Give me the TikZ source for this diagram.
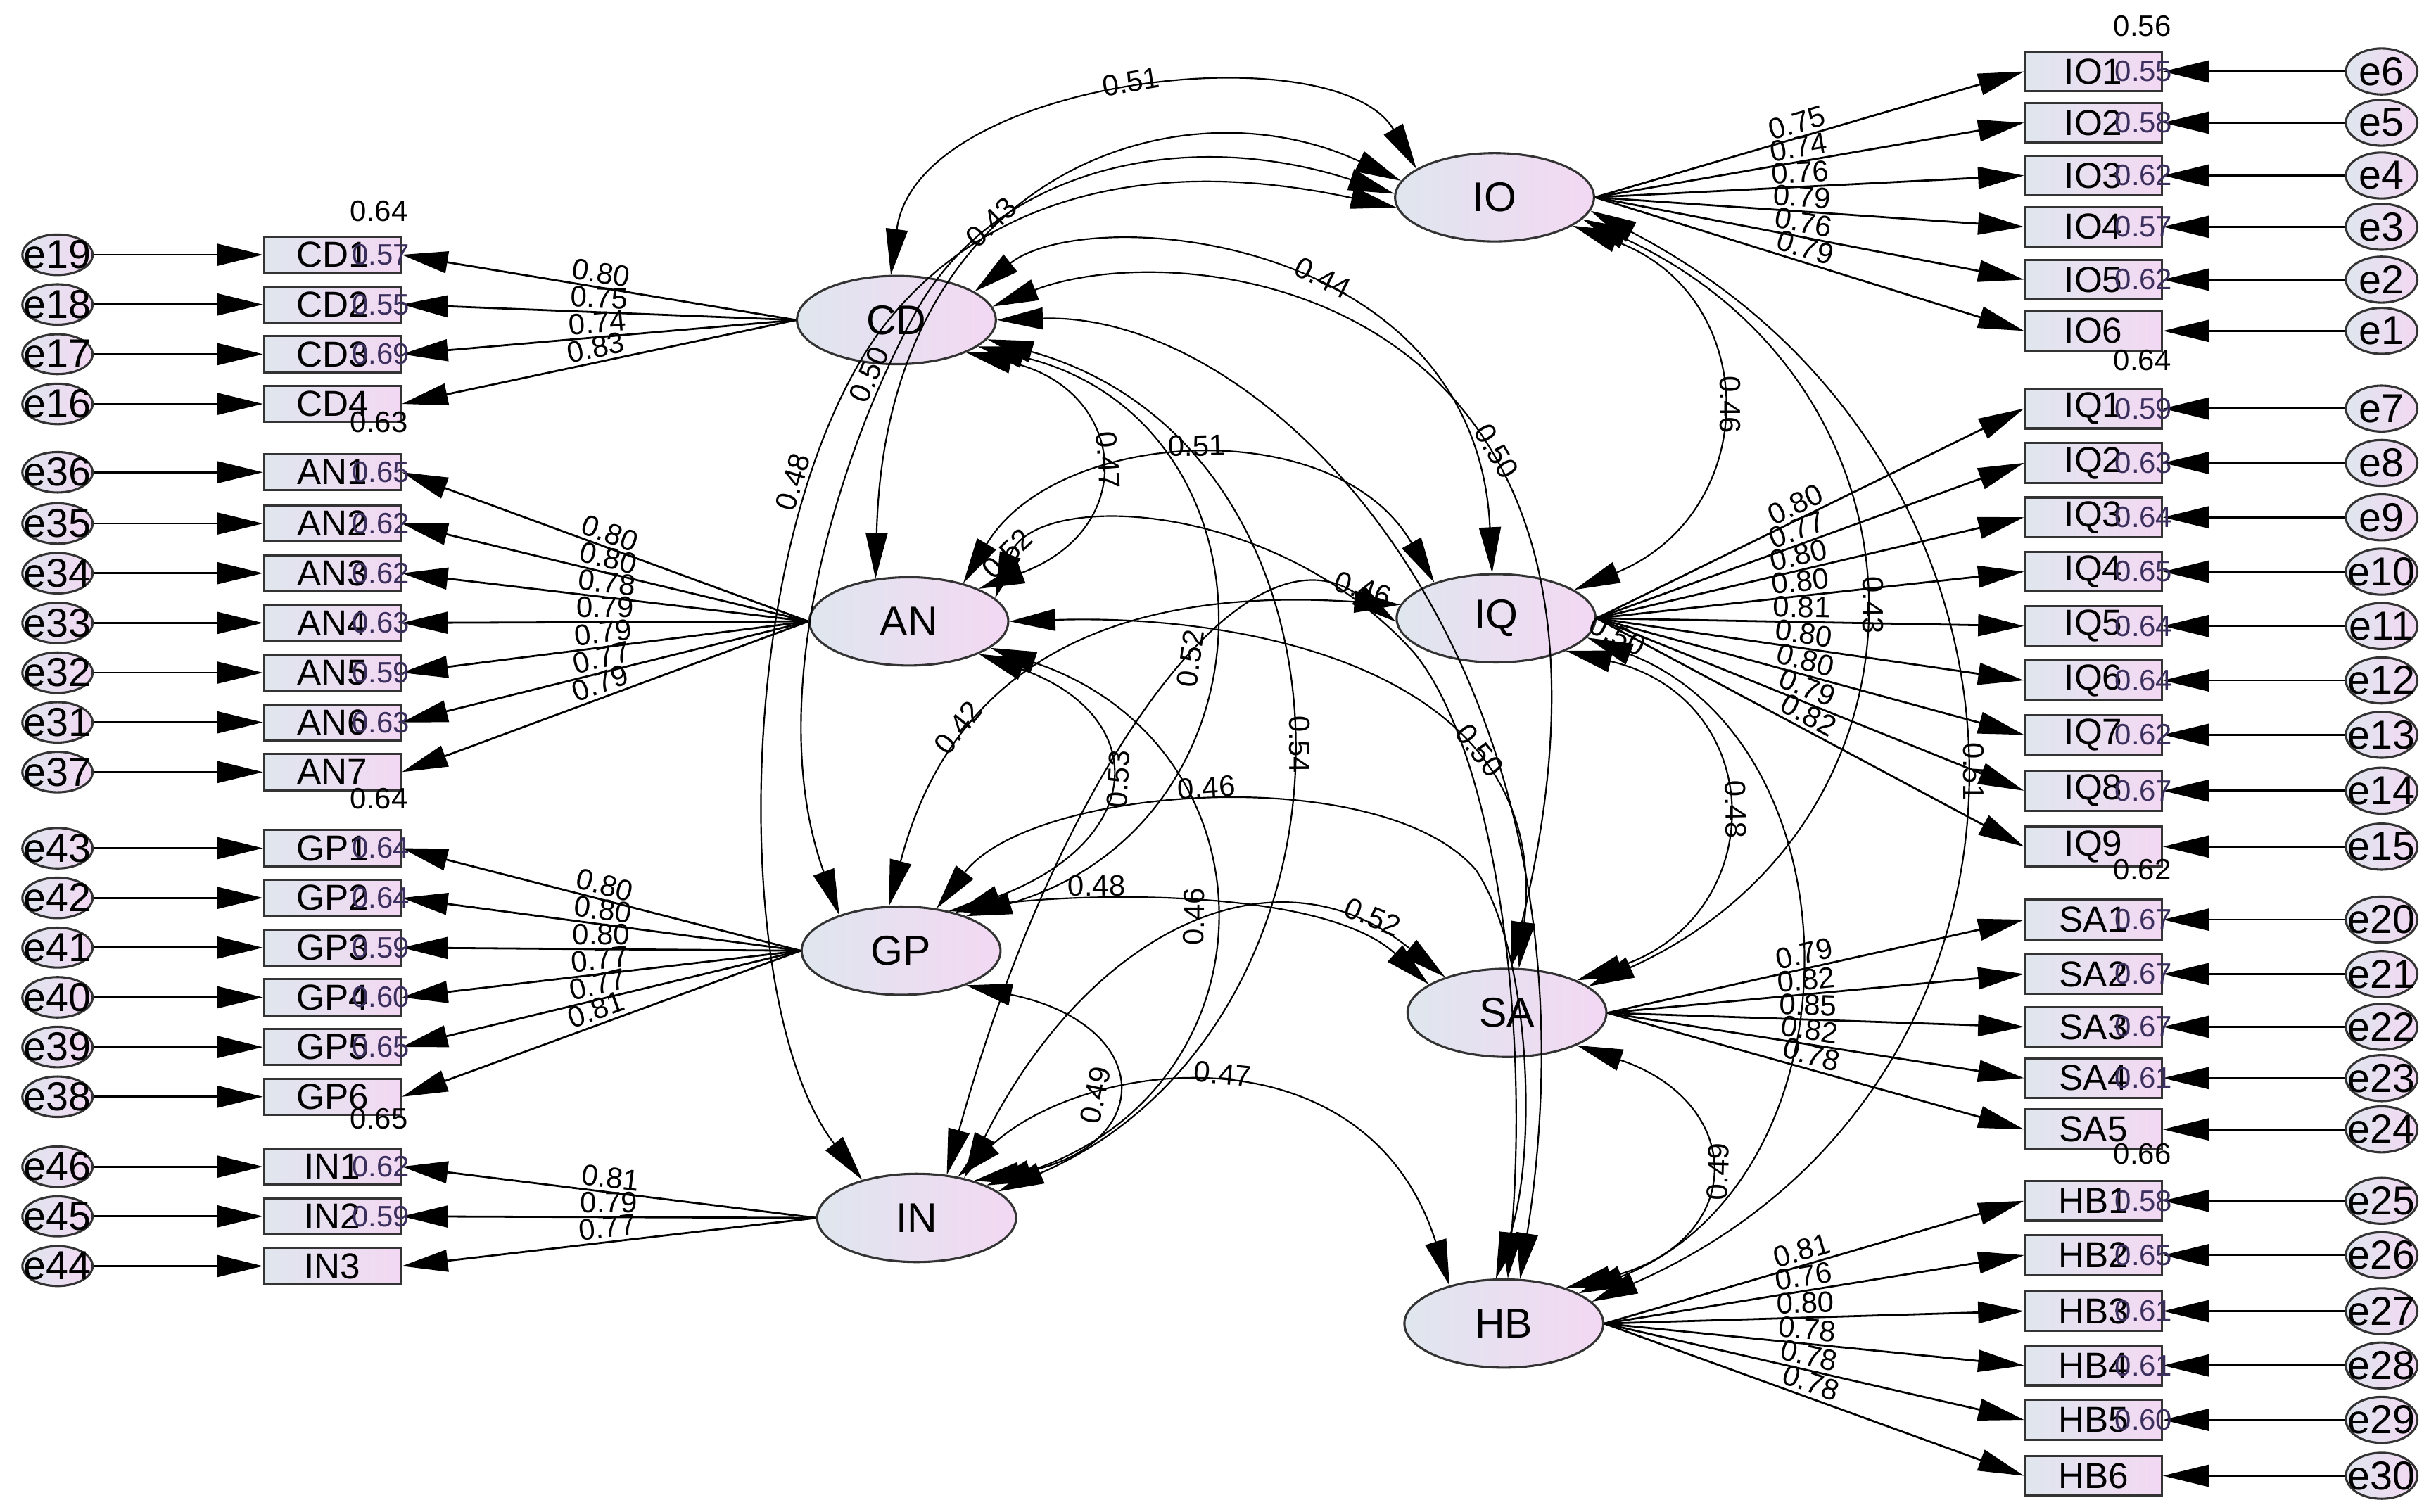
\documentclass[tikz,border=0pt]{standalone}
\usepackage{fontspec}
\setmainfont{Liberation Sans}
\usetikzlibrary{arrows.meta,shapes.geometric}
\definecolor{fillL}{HTML}{DFE6EE}
\definecolor{fillR}{HTML}{F3D8F3}
\definecolor{rsq}{HTML}{3B2F5E}
\definecolor{edge}{HTML}{333333}
\newcommand\zb[1]{\makebox[0pt]{#1}}
\begin{document}
\begin{tikzpicture}[x=0.025cm,y=-0.025cm,
  >={Triangle[length=21pt,width=10pt]},
  obs/.style={rectangle, draw=edge, line width=1pt, minimum width=2.2cm, minimum height=0.58cm, inner sep=0pt, left color=fillL, right color=fillR, font=\fontsize{16.5}{16.5}\selectfont},
  obsR/.style={obs, minimum height=0.64cm},
  err/.style={ellipse, draw=edge, line width=1pt, minimum width=1.13cm, minimum height=0.64cm, inner sep=0pt, left color=fillL, right color=fillR, font=\fontsize{18.5}{18.5}\selectfont},
  errR/.style={err, minimum width=1.15cm, minimum height=0.74cm},
  lat/.style={ellipse, draw=edge, line width=1pt, minimum width=3.2cm, minimum height=1.42cm, inner sep=0pt, left color=fillL, right color=fillR, font=\fontsize{19}{19}\selectfont},
  load/.style={->, line width=0.9pt},
  cov/.style={<->, line width=0.7pt},
  lab/.style={font=\fontsize{13.5}{13.5}\selectfont, inner sep=1.5pt},
  rs/.style={font=\fontsize{13.5}{13.5}\selectfont, text=rsq, inner sep=0pt},
  rt/.style={font=\fontsize{13.5}{13.5}\selectfont, inner sep=0pt}]
\useasboundingbox (0,0) rectangle (1568,973);

% latent variables
\node[lat] (CD) at (577,206) {CD};
\node[lat] (IO) at (962,127) {IO};
\node[lat] (AN) at (585,400) {AN};
\node[lat] (IQ) at (963,398) {IQ};
\node[lat] (GP) at (580,612) {GP};
\node[lat] (SA) at (970,652) {SA};
\node[lat] (IN) at (590,784) {IN};
\node[lat] (HB) at (968,852) {HB};

% left indicators
\foreach \b/\y/\e in {CD1/164/e19,CD2/196/e18,CD3/228/e17,CD4/260/e16,
  AN1/304/e36,AN2/337/e35,AN3/369/e34,AN4/401/e33,AN5/433/e32,AN6/465/e31,AN7/497/e37,
  GP1/546/e43,GP2/578/e42,GP3/610/e41,GP4/642/e40,GP5/674/e39,GP6/706/e38,
  IN1/751/e46,IN2/783/e45,IN3/815/e44}{
  \node[obs] (\b) at (214,\y) {\b};
  \node[err] (\e) at (37,\y) {\zb{\e}};
  \draw[load] (\e.east) -- (\b.west);
}
% right indicators
\foreach \b/\y/\e in {IO1/46/e6,IO2/79/e5,IO3/113/e4,IO4/146/e3,IO5/180/e2,IO6/213/e1,
  IQ1/263/e7,IQ2/298/e8,IQ3/333/e9,IQ4/368/e10,IQ5/403/e11,IQ6/438/e12,IQ7/473/e13,IQ8/509/e14,IQ9/545/e15,
  SA1/592/e20,SA2/627/e21,SA3/661/e22,SA4/694/e23,SA5/727/e24,
  HB1/773/e25,HB2/808/e26,HB3/844/e27,HB4/879/e28,HB5/914/e29,HB6/950/e30}{
  \node[obsR] (\b) at (1347.5,\y) {\b};
  \node[errR] (\e) at (1533,\y) {\zb{\e}};
  \draw[load] (\e.west) -- (\b.east);
}

% loadings
\foreach \b/\l in {CD1/0.80,CD2/0.75,CD3/0.74,CD4/0.83}
  \draw[load] (CD.west) -- node[lab,sloped,above]{\l} (\b.east);
\foreach \b/\l in {AN1/0.80,AN2/0.80,AN3/0.78,AN4/0.79,AN5/0.79,AN6/0.77,AN7/0.79}
  \draw[load] (AN.west) -- node[lab,sloped,above]{\l} (\b.east);
\foreach \b/\l in {GP1/0.80,GP2/0.80,GP3/0.80,GP4/0.77,GP5/0.77,GP6/0.81}
  \draw[load] (GP.west) -- node[lab,sloped,above]{\l} (\b.east);
\foreach \b/\l in {IN1/0.81,IN2/0.79,IN3/0.77}
  \draw[load] (IN.west) -- node[lab,sloped,above]{\l} (\b.east);
\foreach \b/\l in {IO1/0.75,IO2/0.74,IO3/0.76,IO4/0.79,IO5/0.76,IO6/0.79}
  \draw[load] (IO.east) -- node[lab,sloped,above,pos=.48]{\l} (\b.west);
\foreach \b/\l in {IQ1/0.80,IQ2/0.77,IQ3/0.80,IQ4/0.80,IQ5/0.81,IQ6/0.80,IQ7/0.80,IQ8/0.79,IQ9/0.82}
  \draw[load] (IQ.east) -- node[lab,sloped,above,pos=.48]{\l} (\b.west);
\foreach \b/\l in {SA1/0.79,SA2/0.82,SA3/0.85,SA4/0.82,SA5/0.78}
  \draw[load] (SA.east) -- node[lab,sloped,above,pos=.48]{\l} (\b.west);
\foreach \b/\l in {HB1/0.81,HB2/0.76,HB3/0.80,HB4/0.78,HB5/0.78,HB6/0.78}
  \draw[load] (HB.east) -- node[lab,sloped,above,pos=.48]{\l} (\b.west);

% covariances
\draw[cov] (CD.97) .. controls (590,50) and (860,20) .. node[lab,sloped,above]{0.51} (IO.160);
\draw[cov] (IO.170) .. controls (760,50) and (570,110) .. node[lab,sloped,above,pos=.6]{0.43} (AN.128);
\draw[cov] (IO.178) .. controls (760,80) and (640,110) .. (590,200) .. controls (540,290) and (490,450) .. node[lab,sloped,above,pos=.15]{0.50} (GP.150);
\draw[cov] (IO.186) .. controls (720,95) and (620,140) .. (565,215) .. controls (470,350) and (470,650) .. node[lab,sloped,above,pos=.2]{0.48} (IN.145);
\draw[cov] (CD.-25) .. controls (725,250) and (735,340) .. node[lab,sloped,above]{0.47} (AN.25);
\draw[cov] (CD.-18) .. controls (828,270) and (828,530) .. node[lab,sloped,above,pos=.55]{0.52} (GP.28);
\draw[cov] (CD.-12) .. controls (890,290) and (890,660) .. node[lab,sloped,above]{0.54} (IN.18);
\draw[cov] (GP.35) .. controls (740,540) and (740,460) .. node[lab,sloped,below]{0.53} (AN.-25);
\draw[cov] (AN.-18) .. controls (825,480) and (825,700) .. node[lab,sloped,above]{0.46} (IN.25);
\draw[cov] (GP.-28) .. controls (745,660) and (745,740) .. node[lab,sloped,above,pos=.55]{0.49} (IN.33);

\draw[cov] (IO.-20) .. controls (1135,190) and (1135,330) .. node[lab,sloped,above]{0.46} (IQ.20);
\draw[cov] (IO.-14) .. controls (1255,250) and (1255,530) .. node[lab,sloped,above]{0.43} (SA.18);
\draw[cov] (IO.-8) .. controls (1340,300) and (1340,700) .. node[lab,sloped,above,pos=.5]{0.51} (HB.14);
\draw[cov] (IQ.-25) .. controls (1140,450) and (1140,590) .. node[lab,sloped,above]{0.48} (SA.25);
\draw[cov] (IQ.-12) .. controls (1200,480) and (1200,760) .. node[lab,sloped,above,pos=.03]{0.50} (HB.22);
\draw[cov] (HB.30) .. controls (1125,800) and (1125,710) .. node[lab,sloped,below]{0.49} (SA.-25);

\draw[cov] (CD.20) .. controls (700,130) and (950,150) .. node[lab,sloped,above,pos=.57]{0.44} (IQ.95);
\draw[cov] (CD.8) .. controls (760,150) and (1080,180) .. node[lab,sloped,above,pos=.65]{0.50} (SA.85);
\draw[cov] (CD.0) .. controls (820,200) and (1040,430) .. (HB.70);
\draw[cov] (AN.35) .. controls (680,275) and (860,265) .. node[lab,sloped,above]{0.51} (IQ.150);
\draw[cov] (AN.0) .. controls (800,395) and (1000,430) .. node[lab,sloped,above,pos=.7]{0.50} (SA.75);
\draw[cov] (AN.15) .. controls (665,315) and (820,320) .. node[lab,sloped,above,pos=.12]{0.52} (910,420) .. controls (960,480) and (985,650) .. (HB.85);
\draw[cov] (IQ.172) .. controls (760,380) and (620,400) .. node[lab,sloped,above,pos=.75]{0.42} (GP.105);
\draw[cov] (GP.40) .. controls (690,575) and (850,570) .. node[lab,sloped,above,pos=.32]{0.48} (SA.160);
\draw[cov] (GP.50) .. controls (665,505) and (890,490) .. node[lab,sloped,above]{0.46} (950,560) .. controls (985,612) and (990,740) .. (HB.100);
\draw[cov] (IN.55) .. controls (680,500) and (800,330) .. node[lab,sloped,above,pos=.92]{0.46} (IQ.182);
\draw[cov] (IN.40) .. controls (700,600) and (820,540) .. node[lab,sloped,above,pos=.85]{0.52} (SA.150);
\draw[cov] (IN.45) .. controls (700,680) and (880,660) .. node[lab,sloped,above]{0.47} (HB.145);

% squared multiple correlations
\foreach \b/\r in {CD1/0.57,CD2/0.55,CD3/0.69,AN1/0.65,AN2/0.62,AN3/0.62,AN4/0.63,AN5/0.59,AN6/0.63,
  GP1/0.64,GP2/0.64,GP3/0.59,GP4/0.60,GP5/0.65,IN1/0.62,IN2/0.59}
  \node[rs] at ([xshift=-0.34cm]\b.east) {\r};
\foreach \b/\r in {IO1/0.55,IO2/0.58,IO3/0.62,IO4/0.57,IO5/0.62,
  IQ1/0.59,IQ2/0.63,IQ3/0.64,IQ4/0.65,IQ5/0.64,IQ6/0.64,IQ7/0.62,IQ8/0.67,
  SA1/0.67,SA2/0.67,SA3/0.67,SA4/0.61,HB1/0.58,HB2/0.65,HB3/0.61,HB4/0.61,HB5/0.60}
  \node[rs] at ([xshift=-0.31cm]\b.east) {\r};
\node[rt] at (244,136) {0.64};
\node[rt] at (244,272) {0.63};
\node[rt] at (244,514) {0.64};
\node[rt] at (244,720) {0.65};
\node[rt] at (1379,17) {0.56};
\node[rt] at (1379,232) {0.64};
\node[rt] at (1379,560) {0.62};
\node[rt] at (1379,743) {0.66};
\end{tikzpicture}
\end{document}
